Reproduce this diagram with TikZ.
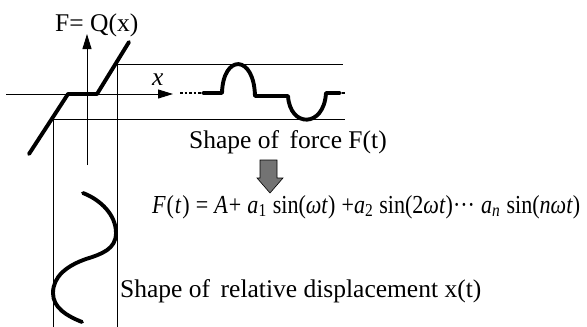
\documentclass[tikz,border=0pt]{standalone}
\usepackage{fontspec}
\setmainfont{Liberation Serif}
\usepackage{graphicx}
\usetikzlibrary{arrows.meta}
\tikzset{
  thin line/.style={line width=1pt},
  thick curve/.style={line width=3.9pt, line cap=round, line join=round},
  axis/.style={line width=1pt, -{Triangle[length=15pt,width=9pt]}},
  lbl/.style={inner sep=0pt, anchor=base west, font=\fontsize{25.5}{30}\selectfont},
  blockarrow/.style={draw=black, line width=0.6pt, fill=black!55}
}
\begin{document}
\begin{tikzpicture}[x=1pt,y=-1pt]
\useasboundingbox (0,0) rectangle (587,327);
% frame lines
\draw[thin line] (117,64) -- (343,64);
\draw[thin line] (53,119) -- (345,119);
\draw[thin line] (53,119) -- (53,327);
\draw[thin line] (117,64) -- (117,327);
% axes
\draw[axis] (87,165) -- (87,34);
\draw[axis] (6,94) -- (173,94);
\draw[line width=1.5pt, dash pattern=on 2.5pt off 2pt] (180,93) -- (201,93);
\draw[line width=1.5pt] (342,93) -- (345,93);
% characteristic Q(x)
\draw[thick curve] (29,154) -- (68,94) -- (97,94) -- (129,42);
% force shape
\draw[thick curve] (203,93) -- (222,93)
  .. controls (223,54) and (254,54) .. (255,96)
  -- (288,96)
  .. controls (290,128) and (324,128) .. (326,93)
  -- (340,93);
% displacement shape
\draw[thick curve] (83,193)
  .. controls (101,200) and (116,215) .. (116,233)
  .. controls (116,249) and (102,254) .. (86,259)
  .. controls (66,266) and (53,277) .. (53,293)
  .. controls (53,308) and (67,316) .. (82,322);
% gray block arrow
\draw[blockarrow] (260,160) -- (277,160) -- (277,178) -- (283,178) -- (270,193)
  -- (257,178) -- (260,178) -- cycle;
% labels
\node[lbl] (fq) at (55,31) {F= Q(x)};
\node[lbl] (xl) at (152,85) {\textit{x}};
\node[lbl] (sf) at (189,148) {Shape of\, force F(t)};
\node[lbl] (fm) at (152,213) {\resizebox{428pt}{18pt}{\textit{F}\kern1pt(\kern1pt\textit{t}\kern1pt)\;=\;\textit{A}\kern1pt+\;\textit{a}\textsubscript{1}\;sin(\textit{ωt})\;+\textit{a}\textsubscript{2}\;sin(2\textit{ωt})···\;\textit{a}\textsubscript{\textit{n}}\;sin(\textit{nωt})}};
\node[lbl] (sd) at (120,297) {Shape of\, relative displacement x(t)};
\end{tikzpicture}
\end{document}
